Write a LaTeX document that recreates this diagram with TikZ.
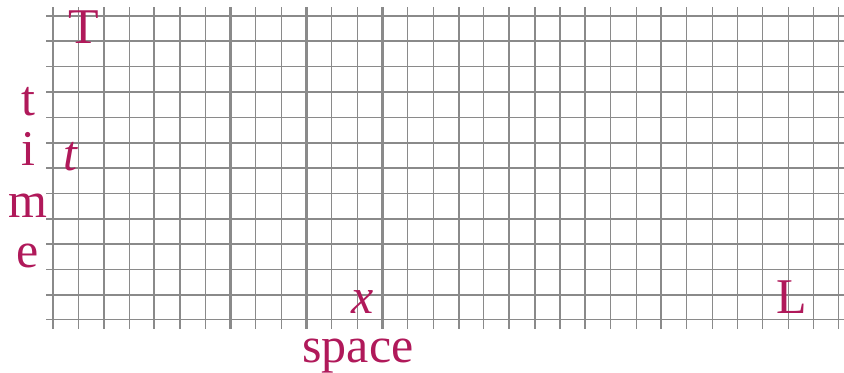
\documentclass[tikz,border=0pt]{standalone}
\usepackage{fontspec}
\setmainfont{Liberation Serif}
\definecolor{lblcol}{HTML}{B0195A}
\definecolor{gridcol}{HTML}{8A8A8A}
\begin{document}
\begin{tikzpicture}[x=0.75pt,y=-0.75pt,
  gridthin/.style={draw=gridcol,line width=0.8pt},
  gridmed/.style={draw=gridcol,line width=1.2pt},
  gridthick/.style={draw=gridcol,line width=1.6pt},
  lbl/.style={text=lblcol,inner sep=0pt,anchor=base,font=\fontsize{37.5}{45}\selectfont}]
\useasboundingbox (0,0) rectangle (844,372);
% vertical lines
\foreach \i in {0,...,31}{
  \draw[gridthin] ({53+25.35*\i},7) -- ({53+25.35*\i},329);
}
\foreach \i in {2,4,7,10,13,16,18,19,21,24}{
  \draw[gridthick] ({53+25.35*\i},7) -- ({53+25.35*\i},329);
}
\draw[gridmed] ({53+25.35*5},7) -- ({53+25.35*5},329);
% horizontal lines
\foreach \j in {0,...,12}{
  \draw[gridthin] (46,{16+25.33*\j}) -- (844,{16+25.33*\j});
}
\foreach \j in {1,3,5,8,11}{
  \draw[gridthick] (46,{16+25.33*\j}) -- (844,{16+25.33*\j});
}
% labels
\node[lbl] (T) at (84,43) {T};
\node[lbl] (t1) at (28,115) {t};
\node[lbl] (t2) at (28,165) {i};
\node[lbl] (t3) at (28,217) {m};
\node[lbl] (t4) at (28,267) {e};
\node[lbl] (tvar) at (70,170) {\itshape t};
\node[lbl] (xvar) at (363,313) {\itshape x};
\node[lbl] (L) at (792,313) {L};
\node[lbl] (space) at (358,362) {space};
\end{tikzpicture}
\end{document}
